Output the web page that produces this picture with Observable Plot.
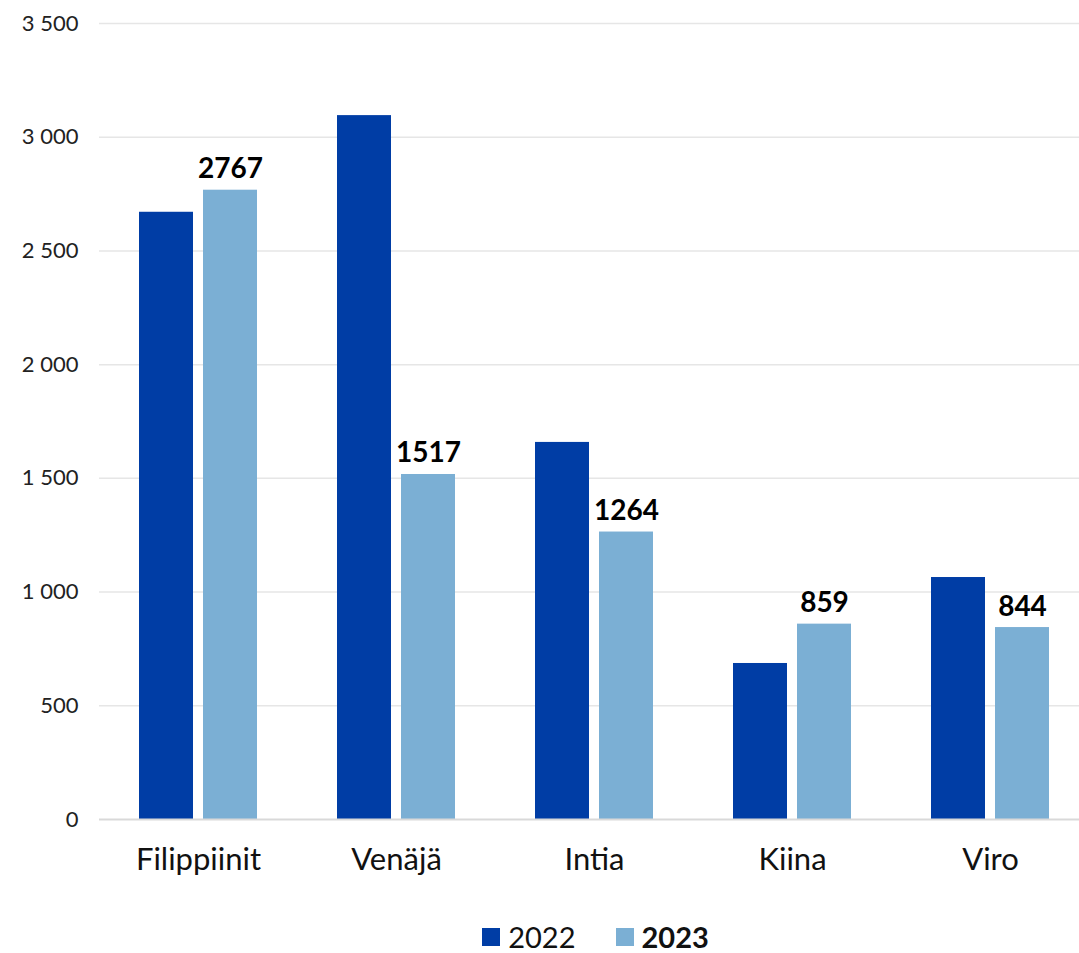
<!DOCTYPE html>
<html><head><meta charset="utf-8">
<script src="https://cdn.jsdelivr.net/npm/d3@7"></script>
<script src="https://cdn.jsdelivr.net/npm/@observablehq/plot@0.6"></script>
<style>
html,body{margin:0;padding:0;background:#fff;overflow:hidden;width:1079px;}
#chart{position:relative;width:1079px;}
.legend{display:flex;gap:40px;justify-content:center;align-items:center;margin-left:112px;margin-top:32px;font-family:Lato,"Open Sans",sans-serif;font-size:29px;line-height:1;color:#111;}
.legend span.sw{display:inline-block;width:18px;height:18px;margin-right:8px;vertical-align:middle;}
.legend .item{display:flex;align-items:center;}
</style></head><body>
<div id="chart"></div>
<script>
const countries = ["Filippiinit","Venäjä","Intia","Kiina","Viro"];
const years = ["2022","2023"];
const values2022 = [2670, 3095, 1658, 686, 1064];
const values2023 = [2767, 1517, 1264, 859, 844];
const yTicks = [0,500,1000,1500,2000,2500,3000,3500];
const colors = ["#003DA5","#7BAFD4"];

const data = [];
countries.forEach((c,i)=>{
  data.push({country:c, year:"2022", value:values2022[i]});
  data.push({country:c, year:"2023", value:values2023[i]});
});
const labels = data.filter(d=>d.year==="2023");
const fmt = v => d3.format(",")(v).replace(/,/g," ");

const plot = Plot.plot({
  width: 1079,
  height: 890,
  marginTop: 23,
  marginBottom: 71,
  marginLeft: 99,
  marginRight: -10,
  style:{fontFamily:"Lato, 'Open Sans', sans-serif", background:"#fff", overflow:"visible", display:"block"},
  fx:{domain:countries, padding:0, label:null, axis:null},
  x:{domain:years, paddingInner:0.16, paddingOuter:0.62, axis:null},
  y:{domain:[0,3500], ticks:yTicks, label:null, axis:null},
  color:{domain:years, range:colors},
  marks:[
    Plot.gridY(yTicks.filter(t=>t>0), {stroke:"#e6e6e6", strokeOpacity:1, strokeWidth:1.5, facetAnchor:"top"}),
    Plot.barY(data, {fx:"country", x:"year", y:"value", fill:"year"}),
    Plot.ruleY([0], {stroke:"#d9d9d9", strokeWidth:2}),
    Plot.text(labels, {fx:"country", x:"year", y:"value", text:d=>String(d.value), lineAnchor:"bottom", dy:-12, fontSize:28, fontWeight:"bold", fill:"#000"}),
    Plot.axisY({ticks:yTicks, tickSize:0, tickPadding:21, tickFormat:fmt, fontSize:22, fill:"#222", anchor:"left"}),
    Plot.axisFx({tickSize:0, tickPadding:28, fontSize:31, fill:"#111", anchor:"bottom"})
  ]
});
document.getElementById("chart").appendChild(plot);

const lg = document.createElement("div");
lg.className = "legend";
years.forEach((y,i)=>{
  const it = document.createElement("div");
  it.className="item";
  const sw = document.createElement("span"); sw.className="sw"; sw.style.background=colors[i];
  const t = document.createElement("span"); t.textContent=y; if(i===1) t.style.fontWeight="bold";
  it.appendChild(sw); it.appendChild(t); lg.appendChild(it);
});
document.getElementById("chart").appendChild(lg);
</script>
</body></html>
